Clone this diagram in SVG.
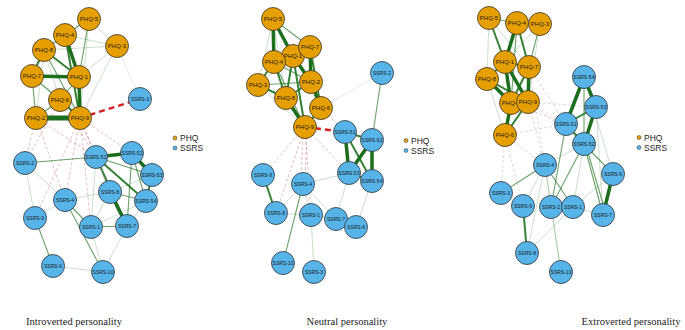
<svg xmlns="http://www.w3.org/2000/svg" width="685" height="330" viewBox="0 0 685 330">
<style>
.bg{fill:#fff}
.phq{fill:#E69F00;stroke:#333;stroke-width:0.8}
.ssrs{fill:#56B4E9;stroke:#333;stroke-width:0.8}
.nl{font-family:"Liberation Sans",Arial,sans-serif;font-size:6px;fill:#1a1a1a;text-anchor:middle}
.ns{font-family:"Liberation Sans",Arial,sans-serif;font-size:5px;fill:#1a1a1a;text-anchor:middle}
.leg{font-family:"Liberation Sans",Arial,sans-serif;font-size:8.5px;fill:#222}
.ld{stroke-width:0.5}
.cap{font-family:"Liberation Serif","Times New Roman",serif;font-size:10.5px;fill:#222;text-anchor:middle}
line{stroke-linecap:round}
.w5{stroke:#1b6e1b;stroke-width:5}
.w4{stroke:#1b6e1b;stroke-width:3.5}
.w3{stroke:#1f741f;stroke-width:2;stroke-opacity:0.9}
.w2{stroke:#2a7a2a;stroke-width:1.1;stroke-opacity:0.7}
.w1{stroke:#3a8a3a;stroke-width:0.6;stroke-opacity:0.45}
.w0{stroke:#9a9a9a;stroke-width:0.5;stroke-opacity:0.5}
.n3{stroke:#d42020;stroke-width:2.4;stroke-dasharray:6 4;stroke-linecap:butt}
.n1{stroke:#b84545;stroke-width:0.6;stroke-opacity:0.6;stroke-dasharray:3 2;stroke-linecap:butt}
.n0{stroke:#b88a8a;stroke-width:0.6;stroke-opacity:0.6;stroke-dasharray:3 2;stroke-linecap:butt}
.g0{stroke:#999;stroke-width:1;stroke-dasharray:2 1.5;stroke-linecap:butt}
</style>
<rect class="bg" x="0" y="0" width="685" height="330"/>

<!-- ===================== Panel 1: Introverted ===================== -->
<g id="edges-introverted">
<line class="w0" x1="117" y1="46" x2="140" y2="99"/>
<line class="w1" x1="117" y1="46" x2="89" y2="19"/>
<line class="w1" x1="117" y1="46" x2="65" y2="35"/>
<line class="w1" x1="117" y1="46" x2="44" y2="50"/>
<line class="w1" x1="117" y1="46" x2="79" y2="77"/>
<line class="w1" x1="89" y1="19" x2="44" y2="50"/>
<line class="w1" x1="117" y1="46" x2="80" y2="118"/>
<line class="w1" x1="44" y1="50" x2="36" y2="118"/>
<line class="w1" x1="44" y1="50" x2="60" y2="100"/>
<line class="w1" x1="32" y1="76" x2="80" y2="118"/>
<line class="w1" x1="89" y1="19" x2="80" y2="118"/>
<line class="w2" x1="60" y1="100" x2="36" y2="118"/>
<line class="w2" x1="32" y1="76" x2="60" y2="100"/>
<line class="w2" x1="89" y1="19" x2="65" y2="35"/>
<line class="w2" x1="44" y1="50" x2="65" y2="35"/>
<line class="w2" x1="44" y1="50" x2="80" y2="118"/>
<line class="w2" x1="79" y1="77" x2="60" y2="100"/>
<line class="w2" x1="32" y1="76" x2="36" y2="118"/>
<line class="w2" x1="89" y1="19" x2="79" y2="77"/>
<line class="w3" x1="44" y1="50" x2="32" y2="76"/>
<line class="w3" x1="44" y1="50" x2="79" y2="77"/>
<line class="w3" x1="60" y1="100" x2="80" y2="118"/>
<line class="w3" x1="65" y1="35" x2="80" y2="118"/>
<line class="w4" x1="65" y1="35" x2="79" y2="77"/>
<line class="w4" x1="79" y1="77" x2="80" y2="118"/>
<line class="w4" x1="32" y1="76" x2="79" y2="77"/>
<line class="w5" x1="36" y1="118" x2="80" y2="118"/>
<line class="n3" x1="80" y1="118" x2="140" y2="99"/>
<line class="n1" x1="80" y1="118" x2="96" y2="157"/>
<line class="n1" x1="80" y1="118" x2="132" y2="153"/>
<line class="n1" x1="36" y1="118" x2="25" y2="163"/>
<line class="n1" x1="36" y1="118" x2="96" y2="157"/>
<line class="n1" x1="80" y1="118" x2="91" y2="227"/>
<line class="n1" x1="80" y1="118" x2="35" y2="218"/>
<line class="n1" x1="60" y1="100" x2="25" y2="163"/>
<line class="n1" x1="80" y1="118" x2="110" y2="192"/>
<line class="n1" x1="36" y1="118" x2="65" y2="200"/>
<line class="n1" x1="80" y1="118" x2="65" y2="200"/>
<line class="n1" x1="60" y1="100" x2="96" y2="157"/>
<line class="w1" x1="25" y1="163" x2="35" y2="218"/>
<line class="w1" x1="91" y1="227" x2="110" y2="192"/>
<line class="w1" x1="91" y1="227" x2="96" y2="157"/>
<line class="w1" x1="53" y1="266" x2="103" y2="272"/>
<line class="w1" x1="127" y1="226" x2="103" y2="272"/>
<line class="w1" x1="91" y1="227" x2="103" y2="272"/>
<line class="w1" x1="110" y1="192" x2="152" y2="175"/>
<line class="w1" x1="35" y1="218" x2="65" y2="200"/>
<line class="w1" x1="65" y1="200" x2="110" y2="192"/>
<line class="w1" x1="25" y1="163" x2="65" y2="200"/>
<line class="w1" x1="91" y1="227" x2="146" y2="201"/>
<line class="w1" x1="127" y1="226" x2="146" y2="201"/>
<line class="w2" x1="132" y1="153" x2="146" y2="201"/>
<line class="w2" x1="96" y1="157" x2="25" y2="163"/>
<line class="w2" x1="91" y1="227" x2="127" y2="226"/>
<line class="w2" x1="132" y1="153" x2="127" y2="226"/>
<line class="w2" x1="110" y1="192" x2="146" y2="201"/>
<line class="w2" x1="35" y1="218" x2="53" y2="266"/>
<line class="w2" x1="65" y1="200" x2="91" y2="227"/>
<line class="w2" x1="65" y1="200" x2="103" y2="272"/>
<line class="w2" x1="96" y1="157" x2="152" y2="175"/>
<line class="w3" x1="152" y1="175" x2="146" y2="201"/>
<line class="w3" x1="96" y1="157" x2="146" y2="201"/>
<line class="w3" x1="96" y1="157" x2="127" y2="226"/>
<line class="w4" x1="96" y1="157" x2="132" y2="153"/>
<line class="w4" x1="132" y1="153" x2="152" y2="175"/>
<line class="w4" x1="110" y1="192" x2="127" y2="226"/>
<line class="g0" x1="96" y1="157" x2="110" y2="192"/>
</g>
<g id="i-PHQ-5"><circle class="phq" cx="89" cy="19" r="11.5"/><text class="nl" x="89" y="21">PHQ-5</text></g>
<g id="i-PHQ-4"><circle class="phq" cx="65" cy="35" r="11.5"/><text class="nl" x="65" y="37">PHQ-4</text></g>
<g id="i-PHQ-3"><circle class="phq" cx="117" cy="46" r="11.5"/><text class="nl" x="117" y="48">PHQ-3</text></g>
<g id="i-PHQ-8"><circle class="phq" cx="44" cy="50" r="11.5"/><text class="nl" x="44" y="52">PHQ-8</text></g>
<g id="i-PHQ-7"><circle class="phq" cx="32" cy="76" r="11.5"/><text class="nl" x="32" y="78">PHQ-7</text></g>
<g id="i-PHQ-1"><circle class="phq" cx="79" cy="77" r="11.5"/><text class="nl" x="79" y="79">PHQ-1</text></g>
<g id="i-PHQ-6"><circle class="phq" cx="60" cy="100" r="11.5"/><text class="nl" x="60" y="102">PHQ-6</text></g>
<g id="i-PHQ-2"><circle class="phq" cx="36" cy="118" r="11.5"/><text class="nl" x="36" y="120">PHQ-2</text></g>
<g id="i-PHQ-9"><circle class="phq" cx="80" cy="118" r="11.5"/><text class="nl" x="80" y="120">PHQ-9</text></g>
<g id="i-SSRS-3"><circle class="ssrs" cx="140" cy="99" r="11.5"/><text class="ns" x="140" y="101">SSRS-3</text></g>
<g id="i-SSRS-2"><circle class="ssrs" cx="25" cy="163" r="11.5"/><text class="ns" x="25" y="165">SSRS-2</text></g>
<g id="i-SSRS-51"><circle class="ssrs" cx="96" cy="157" r="11.5"/><text class="ns" x="96" y="159">SSRS-51</text></g>
<g id="i-SSRS-52"><circle class="ssrs" cx="132" cy="153" r="11.5"/><text class="ns" x="132" y="155">SSRS-52</text></g>
<g id="i-SSRS-53"><circle class="ssrs" cx="152" cy="175" r="11.5"/><text class="ns" x="152" y="177">SSRS-53</text></g>
<g id="i-SSRS-8"><circle class="ssrs" cx="110" cy="192" r="11.5"/><text class="ns" x="110" y="194">SSRS-8</text></g>
<g id="i-SSRS-54"><circle class="ssrs" cx="146" cy="201" r="11.5"/><text class="ns" x="146" y="203">SSRS-54</text></g>
<g id="i-SSRS-4"><circle class="ssrs" cx="65" cy="200" r="11.5"/><text class="ns" x="65" y="202">SSRS-4</text></g>
<g id="i-SSRS-9"><circle class="ssrs" cx="35" cy="218" r="11.5"/><text class="ns" x="35" y="220">SSRS-9</text></g>
<g id="i-SSRS-1"><circle class="ssrs" cx="91" cy="227" r="11.5"/><text class="ns" x="91" y="229">SSRS-1</text></g>
<g id="i-SSRS-7"><circle class="ssrs" cx="127" cy="226" r="11.5"/><text class="ns" x="127" y="228">SSRS-7</text></g>
<g id="i-SSRS-6"><circle class="ssrs" cx="53" cy="266" r="11.5"/><text class="ns" x="53" y="268">SSRS-6</text></g>
<g id="i-SSRS-10"><circle class="ssrs" cx="103" cy="272" r="11.5"/><text class="ns" x="103" y="274">SSRS-10</text></g>
<g id="i-legend">
<circle class="phq ld" cx="175" cy="138" r="2"/><text class="leg" x="180" y="141">PHQ</text>
<circle class="ssrs ld" cx="175" cy="148" r="2"/><text class="leg" x="180" y="151">SSRS</text>
</g>

<!-- ===================== Panel 2: Neutral ===================== -->
<g id="edges-neutral">
<line class="w0" x1="321" y1="108" x2="382" y2="73"/>
<line class="w2" x1="382" y1="73" x2="372" y2="140"/>
<line class="w1" x1="273" y1="19" x2="258" y2="85"/>
<line class="w1" x1="258" y1="85" x2="305" y2="127"/>
<line class="w1" x1="273" y1="19" x2="286" y2="98"/>
<line class="w1" x1="258" y1="85" x2="293" y2="56"/>
<line class="w2" x1="258" y1="85" x2="311" y2="82"/>
<line class="w2" x1="274" y1="62" x2="305" y2="127"/>
<line class="w2" x1="273" y1="19" x2="310" y2="47"/>
<line class="w2" x1="274" y1="62" x2="311" y2="82"/>
<line class="w3" x1="274" y1="62" x2="258" y2="85"/>
<line class="w3" x1="274" y1="62" x2="286" y2="98"/>
<line class="w3" x1="293" y1="56" x2="310" y2="47"/>
<line class="w3" x1="311" y1="82" x2="286" y2="98"/>
<line class="w3" x1="321" y1="108" x2="305" y2="127"/>
<line class="w3" x1="258" y1="85" x2="286" y2="98"/>
<line class="w3" x1="293" y1="56" x2="305" y2="127"/>
<line class="w3" x1="310" y1="47" x2="321" y2="108"/>
<line class="w3" x1="293" y1="56" x2="286" y2="98"/>
<line class="w4" x1="286" y1="98" x2="305" y2="127"/>
<line class="w4" x1="273" y1="19" x2="274" y2="62"/>
<line class="w4" x1="273" y1="19" x2="293" y2="56"/>
<line class="w4" x1="274" y1="62" x2="293" y2="56"/>
<line class="w4" x1="293" y1="56" x2="311" y2="82"/>
<line class="w4" x1="310" y1="47" x2="311" y2="82"/>
<line class="w4" x1="311" y1="82" x2="321" y2="108"/>
<line class="n3" x1="305" y1="127" x2="345" y2="132"/>
<line class="n1" x1="321" y1="108" x2="345" y2="132"/>
<line class="n1" x1="305" y1="127" x2="263" y2="175"/>
<line class="n1" x1="303" y1="127" x2="301" y2="184"/>
<line class="n1" x1="307" y1="127" x2="305" y2="184"/>
<line class="n1" x1="305" y1="127" x2="349" y2="173"/>
<line class="n1" x1="305" y1="127" x2="311" y2="215"/>
<line class="n1" x1="305" y1="127" x2="276" y2="213"/>
<line class="w1" x1="276" y1="213" x2="311" y2="215"/>
<line class="w2" x1="303" y1="184" x2="283" y2="263"/>
<line class="w1" x1="303" y1="184" x2="311" y2="215"/>
<line class="w1" x1="303" y1="184" x2="349" y2="173"/>
<line class="w1" x1="303" y1="184" x2="336" y2="219"/>
<line class="w1" x1="311" y1="215" x2="314" y2="272"/>
<line class="w1" x1="349" y1="173" x2="336" y2="219"/>
<line class="w1" x1="372" y1="181" x2="356" y2="227"/>
<line class="w1" x1="303" y1="184" x2="276" y2="213"/>
<line class="w1" x1="311" y1="215" x2="336" y2="219"/>
<line class="w3" x1="345" y1="132" x2="372" y2="140"/>
<line class="w3" x1="263" y1="175" x2="276" y2="213"/>
<line class="w3" x1="345" y1="132" x2="372" y2="181"/>
<line class="w3" x1="349" y1="173" x2="372" y2="181"/>
<line class="w4" x1="372" y1="140" x2="349" y2="173"/>
<line class="w4" x1="345" y1="132" x2="349" y2="173"/>
<line class="w4" x1="372" y1="140" x2="372" y2="181"/>
</g>
<g id="n-PHQ-5"><circle class="phq" cx="273" cy="19" r="11.5"/><text class="nl" x="273" y="21">PHQ-5</text></g>
<g id="n-PHQ-1"><circle class="phq" cx="293" cy="56" r="11.5"/><text class="nl" x="293" y="58">PHQ-1</text></g>
<g id="n-PHQ-7"><circle class="phq" cx="310" cy="47" r="11.5"/><text class="nl" x="310" y="49">PHQ-7</text></g>
<g id="n-PHQ-4"><circle class="phq" cx="274" cy="62" r="11.5"/><text class="nl" x="274" y="64">PHQ-4</text></g>
<g id="n-PHQ-3"><circle class="phq" cx="258" cy="85" r="11.5"/><text class="nl" x="258" y="87">PHQ-3</text></g>
<g id="n-PHQ-2"><circle class="phq" cx="311" cy="82" r="11.5"/><text class="nl" x="311" y="84">PHQ-2</text></g>
<g id="n-PHQ-8"><circle class="phq" cx="286" cy="98" r="11.5"/><text class="nl" x="286" y="100">PHQ-8</text></g>
<g id="n-PHQ-6"><circle class="phq" cx="321" cy="108" r="11.5"/><text class="nl" x="321" y="110">PHQ-6</text></g>
<g id="n-PHQ-9"><circle class="phq" cx="305" cy="127" r="11.5"/><text class="nl" x="305" y="129">PHQ-9</text></g>
<g id="n-SSRS-2"><circle class="ssrs" cx="382" cy="73" r="11.5"/><text class="ns" x="382" y="75">SSRS-2</text></g>
<g id="n-SSRS-51"><circle class="ssrs" cx="345" cy="132" r="11.5"/><text class="ns" x="345" y="134">SSRS-51</text></g>
<g id="n-SSRS-52"><circle class="ssrs" cx="372" cy="140" r="11.5"/><text class="ns" x="372" y="142">SSRS-52</text></g>
<g id="n-SSRS-9"><circle class="ssrs" cx="263" cy="175" r="11.5"/><text class="ns" x="263" y="177">SSRS-9</text></g>
<g id="n-SSRS-4"><circle class="ssrs" cx="303" cy="184" r="11.5"/><text class="ns" x="303" y="186">SSRS-4</text></g>
<g id="n-SSRS-53"><circle class="ssrs" cx="349" cy="173" r="11.5"/><text class="ns" x="349" y="175">SSRS-53</text></g>
<g id="n-SSRS-54"><circle class="ssrs" cx="372" cy="181" r="11.5"/><text class="ns" x="372" y="183">SSRS-54</text></g>
<g id="n-SSRS-8"><circle class="ssrs" cx="276" cy="213" r="11.5"/><text class="ns" x="276" y="215">SSRS-8</text></g>
<g id="n-SSRS-1"><circle class="ssrs" cx="311" cy="215" r="11.5"/><text class="ns" x="311" y="217">SSRS-1</text></g>
<g id="n-SSRS-7"><circle class="ssrs" cx="336" cy="219" r="11.5"/><text class="ns" x="336" y="221">SSRS-7</text></g>
<g id="n-SSRS-6"><circle class="ssrs" cx="356" cy="227" r="11.5"/><text class="ns" x="356" y="229">SSRS-6</text></g>
<g id="n-SSRS-10"><circle class="ssrs" cx="283" cy="263" r="11.5"/><text class="ns" x="283" y="265">SSRS-10</text></g>
<g id="n-SSRS-3"><circle class="ssrs" cx="314" cy="272" r="11.5"/><text class="ns" x="314" y="274">SSRS-3</text></g>
<g id="n-legend">
<circle class="phq ld" cx="406" cy="140.5" r="2"/><text class="leg" x="411" y="143.5">PHQ</text>
<circle class="ssrs ld" cx="406" cy="150.5" r="2"/><text class="leg" x="411" y="153.5">SSRS</text>
</g>

<!-- ===================== Panel 3: Extroverted ===================== -->
<g id="edges-extroverted">
<line class="w1" x1="517" y1="23" x2="540" y2="24"/>
<line class="w1" x1="489" y1="18" x2="487" y2="79"/>
<line class="w1" x1="540" y1="24" x2="528" y2="102"/>
<line class="w1" x1="540" y1="24" x2="505" y2="62"/>
<line class="w1" x1="489" y1="18" x2="529" y2="67"/>
<line class="w1" x1="487" y1="79" x2="505" y2="135"/>
<line class="w2" x1="540" y1="24" x2="529" y2="67"/>
<line class="w2" x1="517" y1="23" x2="511" y2="103"/>
<line class="w2" x1="489" y1="18" x2="517" y2="23"/>
<line class="w3" x1="489" y1="18" x2="505" y2="62"/>
<line class="w3" x1="517" y1="23" x2="529" y2="67"/>
<line class="w3" x1="529" y1="67" x2="511" y2="103"/>
<line class="w3" x1="505" y1="62" x2="487" y2="79"/>
<line class="w3" x1="528" y1="102" x2="505" y2="135"/>
<line class="w3" x1="487" y1="79" x2="528" y2="102"/>
<line class="w3" x1="505" y1="62" x2="529" y2="67"/>
<line class="w4" x1="517" y1="23" x2="505" y2="62"/>
<line class="w4" x1="505" y1="62" x2="511" y2="103"/>
<line class="w4" x1="505" y1="62" x2="528" y2="102"/>
<line class="w4" x1="529" y1="67" x2="528" y2="102"/>
<line class="w4" x1="487" y1="79" x2="511" y2="103"/>
<line class="w4" x1="511" y1="103" x2="505" y2="135"/>
<line class="n0" x1="529" y1="67" x2="566" y2="124"/>
<line class="n0" x1="528" y1="102" x2="566" y2="124"/>
<line class="n0" x1="511" y1="103" x2="566" y2="124"/>
<line class="n0" x1="528" y1="102" x2="584" y2="144"/>
<line class="n0" x1="505" y1="135" x2="501" y2="193"/>
<line class="n0" x1="505" y1="135" x2="545" y2="165"/>
<line class="n0" x1="529" y1="67" x2="545" y2="165"/>
<line class="n0" x1="505" y1="135" x2="523" y2="206"/>
<line class="n0" x1="528" y1="102" x2="596" y2="107"/>
<line class="n0" x1="505" y1="135" x2="566" y2="124"/>
<line class="n0" x1="528" y1="102" x2="545" y2="165"/>
<line class="w1" x1="584" y1="144" x2="545" y2="165"/>
<line class="w1" x1="545" y1="165" x2="523" y2="206"/>
<line class="w1" x1="545" y1="165" x2="551" y2="207"/>
<line class="w1" x1="573" y1="207" x2="603" y2="215"/>
<line class="w1" x1="573" y1="207" x2="527" y2="253"/>
<line class="w1" x1="551" y1="207" x2="561" y2="272"/>
<line class="w1" x1="545" y1="165" x2="561" y2="272"/>
<line class="w1" x1="545" y1="165" x2="527" y2="253"/>
<line class="w1" x1="613" y1="174" x2="573" y2="207"/>
<line class="w1" x1="596" y1="107" x2="603" y2="215"/>
<line class="w1" x1="584" y1="144" x2="573" y2="207"/>
<line class="w1" x1="584" y1="77" x2="613" y2="174"/>
<line class="w2" x1="584" y1="144" x2="603" y2="215"/>
<line class="w2" x1="586" y1="146" x2="606" y2="214"/>
<line class="w2" x1="584" y1="144" x2="613" y2="174"/>
<line class="w2" x1="584" y1="144" x2="551" y2="207"/>
<line class="w2" x1="566" y1="124" x2="551" y2="207"/>
<line class="w2" x1="545" y1="165" x2="501" y2="193"/>
<line class="w2" x1="545" y1="165" x2="573" y2="207"/>
<line class="w2" x1="584" y1="77" x2="584" y2="144"/>
<line class="w3" x1="596" y1="107" x2="566" y2="124"/>
<line class="w3" x1="566" y1="124" x2="584" y2="144"/>
<line class="w3" x1="523" y1="206" x2="527" y2="253"/>
<line class="w4" x1="584" y1="77" x2="566" y2="124"/>
<line class="w4" x1="584" y1="77" x2="596" y2="107"/>
<line class="w4" x1="596" y1="107" x2="584" y2="144"/>
<line class="w4" x1="613" y1="174" x2="603" y2="215"/>
</g>
<g id="e-PHQ-5"><circle class="phq" cx="489" cy="18" r="11.5"/><text class="nl" x="489" y="20">PHQ-5</text></g>
<g id="e-PHQ-4"><circle class="phq" cx="517" cy="23" r="11.5"/><text class="nl" x="517" y="25">PHQ-4</text></g>
<g id="e-PHQ-3"><circle class="phq" cx="540" cy="24" r="11.5"/><text class="nl" x="540" y="26">PHQ-3</text></g>
<g id="e-PHQ-1"><circle class="phq" cx="505" cy="62" r="11.5"/><text class="nl" x="505" y="64">PHQ-1</text></g>
<g id="e-PHQ-7"><circle class="phq" cx="529" cy="67" r="11.5"/><text class="nl" x="529" y="69">PHQ-7</text></g>
<g id="e-PHQ-8"><circle class="phq" cx="487" cy="79" r="11.5"/><text class="nl" x="487" y="81">PHQ-8</text></g>
<g id="e-PHQ-2"><circle class="phq" cx="511" cy="103" r="11.5"/><text class="nl" x="511" y="105">PHQ-2</text></g>
<g id="e-PHQ-9"><circle class="phq" cx="528" cy="102" r="11.5"/><text class="nl" x="528" y="104">PHQ-9</text></g>
<g id="e-PHQ-6"><circle class="phq" cx="505" cy="135" r="11.5"/><text class="nl" x="505" y="137">PHQ-6</text></g>
<g id="e-SSRS-54"><circle class="ssrs" cx="584" cy="77" r="11.5"/><text class="ns" x="584" y="79">SSRS-54</text></g>
<g id="e-SSRS-53"><circle class="ssrs" cx="596" cy="107" r="11.5"/><text class="ns" x="596" y="109">SSRS-53</text></g>
<g id="e-SSRS-51"><circle class="ssrs" cx="566" cy="124" r="11.5"/><text class="ns" x="566" y="126">SSRS-51</text></g>
<g id="e-SSRS-52"><circle class="ssrs" cx="584" cy="144" r="11.5"/><text class="ns" x="584" y="146">SSRS-52</text></g>
<g id="e-SSRS-4"><circle class="ssrs" cx="545" cy="165" r="11.5"/><text class="ns" x="545" y="167">SSRS-4</text></g>
<g id="e-SSRS-6"><circle class="ssrs" cx="613" cy="174" r="11.5"/><text class="ns" x="613" y="176">SSRS-6</text></g>
<g id="e-SSRS-3"><circle class="ssrs" cx="501" cy="193" r="11.5"/><text class="ns" x="501" y="195">SSRS-3</text></g>
<g id="e-SSRS-9"><circle class="ssrs" cx="523" cy="206" r="11.5"/><text class="ns" x="523" y="208">SSRS-9</text></g>
<g id="e-SSRS-2"><circle class="ssrs" cx="551" cy="207" r="11.5"/><text class="ns" x="551" y="209">SSRS-2</text></g>
<g id="e-SSRS-1"><circle class="ssrs" cx="573" cy="207" r="11.5"/><text class="ns" x="573" y="209">SSRS-1</text></g>
<g id="e-SSRS-7"><circle class="ssrs" cx="603" cy="215" r="11.5"/><text class="ns" x="603" y="217">SSRS-7</text></g>
<g id="e-SSRS-8"><circle class="ssrs" cx="527" cy="253" r="11.5"/><text class="ns" x="527" y="255">SSRS-8</text></g>
<g id="e-SSRS-10"><circle class="ssrs" cx="561" cy="272" r="11.5"/><text class="ns" x="561" y="274">SSRS-10</text></g>
<g id="e-legend">
<circle class="phq ld" cx="639" cy="137.5" r="2"/><text class="leg" x="644" y="140.5">PHQ</text>
<circle class="ssrs ld" cx="639" cy="147.5" r="2"/><text class="leg" x="644" y="150.5">SSRS</text>
</g>

<g id="captions">
<text class="cap" x="74" y="325">Introverted personality</text>
<text class="cap" x="347" y="325">Neutral personality</text>
<text class="cap" x="631" y="325">Extroverted personality</text>
</g>
</svg>
